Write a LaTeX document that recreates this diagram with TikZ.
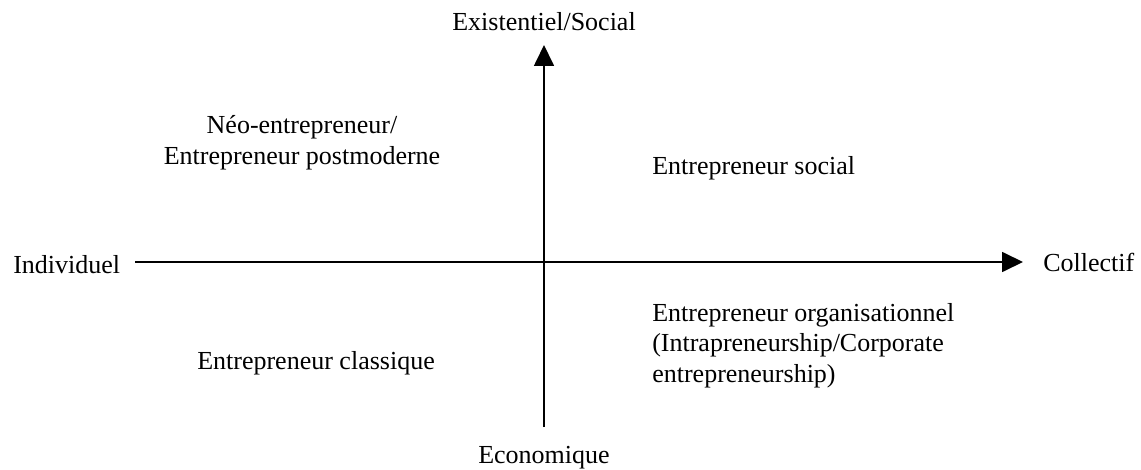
\documentclass[tikz,border=0pt]{standalone}
\usepackage{fontspec}
\setmainfont{Liberation Serif}
\usetikzlibrary{arrows.meta}

\begin{document}
\begin{tikzpicture}[
                x=0.75pt, y=-0.75pt, % pixel grid of the reference, y downwards
                every node/.style={font=\fontsize{19.5}{23}\selectfont, inner sep=0pt},
                axis/.style={line width=1.3pt, -{Triangle[length=15.75pt, width=15pt]}}
            ]

            \useasboundingbox (0,0) rectangle (1141,470);

            % axis ends
            \coordinate (west) at (135,262);
            \coordinate (east) at (1023,262);
            \coordinate (south) at (544,427);
            \coordinate (north) at (544,45);

            \draw[axis] (west) -- (east);
            \draw[axis] (south) -- (north);

            % axis labels
            \node[anchor=base] (social) at (544,31) {Existentiel/Social};
            \node[anchor=base] (eco) at (544,463) {Economique};
            \node[anchor=base west] (indiv) at (13,273) {Individuel};
            \node[anchor=base west] (coll) at (1043,272) {Collectif};

            % quadrants
            \node[anchor=north, align=center] (neo) at (302,115)
                {Néo-entrepreneur/\\Entrepreneur postmoderne};
            \node[anchor=base west] (socent) at (652,175) {Entrepreneur social};
            \node[anchor=north west, align=left] (orga) at (652,303)
                {Entrepreneur organisationnel\\(Intrapreneurship/Corporate\\entrepreneurship)};
            \node[anchor=base west] (classique) at (197,369) {Entrepreneur classique};

        \end{tikzpicture}
\end{document}
